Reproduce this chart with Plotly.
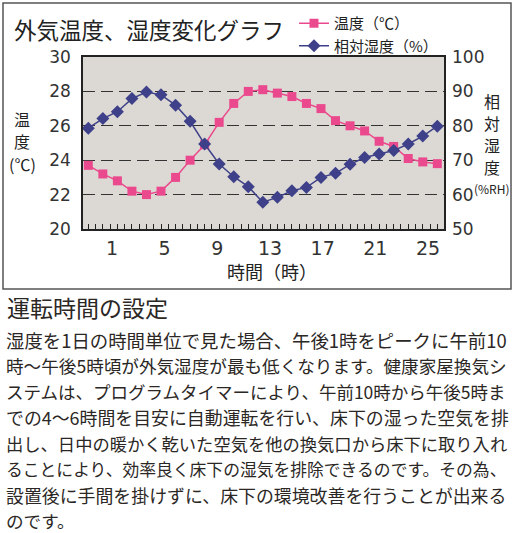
import plotly.graph_objects as go

# ---------------- data ----------------
hours = list(range(1, 26))
temperature = [23.7, 23.2, 22.8, 22.2, 22.0, 22.2, 23.0, 24.0, 24.9, 26.2, 27.3, 28.0, 28.1,
               27.9, 27.7, 27.3, 27.0, 26.3, 26.0, 25.7, 25.1, 24.8, 24.1, 23.9, 23.8]
humidity = [79.3, 82.1, 84.1, 87.9, 89.8, 89.0, 86.0, 81.3, 74.7, 68.9, 65.2, 62.3, 57.8,
            59.2, 61.1, 62.1, 65.0, 66.2, 68.8, 70.8, 71.8, 72.8, 74.7, 77.0, 79.9]
hour_tick_labels = [1, 5, 9, 13, 17, 21, 25]
temp_ticks = [20, 22, 24, 26, 28, 30]
hum_ticks = [50, 60, 70, 80, 90, 100]

title_text = "外気温度、湿度変化グラフ"
temp_name = "温度（℃）"
hum_name = "相対湿度（%）"
x_title = "時間（時）"
left_title_parts = ["温", "度", "(℃)"]
right_title_parts = ["相", "対", "湿", "度", "(%RH)"]
heading = "運転時間の設定"
body_lines = [
    "湿度を1日の時間単位で見た場合、午後1時をピークに午前10",
    "時〜午後5時頃が外気湿度が最も低くなります。健康家屋換気シ",
    "ステムは、プログラムタイマーにより、午前10時から午後5時ま",
    "での4〜6時間を目安に自動運転を行い、床下の湿った空気を排",
    "出し、日中の暖かく乾いた空気を他の換気口から床下に取り入れ",
    "ることにより、効率良く床下の湿気を排除できるのです。その為、",
    "設置後に手間を掛けずに、床下の環境改善を行うことが出来る",
    "のです。",
]

# ---------------- layout geometry (pixels) ----------------
W, H = 515, 533
L, R, T, B = 83, 444, 57, 229
PW, PH = R - L, B - T


def px(x):
    return (x - L) / PW


def py(y):
    return (B - y) / PH


JP = "Noto Sans CJK JP"
NUM = "DejaVu Sans"
PINK = "#ea4a8d"
NAVY = "#3e4189"
TXT = "#2b2725"

fig = go.Figure()
fig.add_trace(go.Scatter(
    x=hours, y=temperature, name=temp_name, mode="lines+markers",
    line=dict(color=PINK, width=1.5),
    marker=dict(symbol="square", size=9, color=PINK),
    xaxis="x", yaxis="y",
))
fig.add_trace(go.Scatter(
    x=hours, y=humidity, name=hum_name, mode="lines+markers",
    line=dict(color=NAVY, width=1.5),
    marker=dict(symbol="diamond", size=10, color=NAVY),
    xaxis="x", yaxis="y2",
))
# helper trace so that the label axis is drawn
fig.add_trace(go.Scatter(
    x=hour_tick_labels, y=[None] * len(hour_tick_labels), mode="markers",
    xaxis="x2", yaxis="y", showlegend=False, hoverinfo="skip",
))

annotations = [
    dict(text=title_text, x=px(12), y=py(29), xanchor="left", yanchor="middle",
         font=dict(family=JP, size=22.5, color="#222")),
    dict(text=x_title, x=px(272), y=py(271), xanchor="center", yanchor="middle",
         font=dict(family=JP, size=18, color="#222")),
    dict(text=heading, x=px(5), y=py(307), xanchor="left", yanchor="middle",
         font=dict(family=JP, size=23, color=TXT)),
]
for t, yy in zip(left_title_parts, [119, 141, 164]):
    annotations.append(dict(text=t, x=px(22), y=py(yy), xanchor="center", yanchor="middle",
                            borderpad=0, font=dict(family=JP, size=16, color="#222")))
for t, yy, s in zip(right_title_parts, [101, 123, 145, 167, 188], [16, 16, 16, 16, 12]):
    annotations.append(dict(text=t, x=px(492), y=py(yy), xanchor="center", yanchor="middle",
                            borderpad=0, font=dict(family=JP, size=s, color="#222")))
line_sizes = [18.4, 17.6, 17.5, 17.9, 17.3, 16.8, 17.9, 17.6]
for i, (t, s) in enumerate(zip(body_lines, line_sizes)):
    annotations.append(dict(text=t, x=px(4), y=py(340 + 25.8 * i), xanchor="left",
                            yanchor="middle", font=dict(family=JP, size=s, color=TXT)))
for a in annotations:
    a.update(xref="paper", yref="paper", showarrow=False)

fig.update_layout(
    width=W, height=H,
    margin=dict(l=L, r=W - R, t=T, b=H - B, autoexpand=False),
    paper_bgcolor="white",
    plot_bgcolor="#dcd9d4",
    showlegend=True,
    legend=dict(x=px(294), y=py(7), xanchor="left", yanchor="top",
                bgcolor="rgba(0,0,0,0)", font=dict(family=JP, size=15, color="#222"),
                tracegroupgap=0),
    xaxis=dict(range=[0.635, 25.46], showticklabels=False, ticks="inside", ticklen=5,
               tick0=1, dtick=0.5, tickcolor="#222", showline=True, mirror=True,
               linecolor="#222", linewidth=1.5, showgrid=False, zeroline=False),
    xaxis2=dict(range=[-1.2, 26.21], overlaying="x", anchor="y", side="bottom",
                tickvals=hour_tick_labels, showline=False, showgrid=False, ticks="",
                zeroline=False, tickfont=dict(family=NUM, size=19, color="#333"),
                ticklabelstandoff=6),
    yaxis=dict(range=[20, 30], tickvals=temp_ticks, showgrid=True, griddash="12px,6px",
               gridcolor="#333", gridwidth=1, showline=True, mirror=True, linecolor="#222",
               linewidth=1.5, ticks="", zeroline=False,
               tickfont=dict(family=NUM, size=17, color="#333"), ticklabelstandoff=7),
    yaxis2=dict(range=[50, 100], tickvals=hum_ticks, overlaying="y", side="right",
                showgrid=False, showline=False, ticks="", zeroline=False,
                tickfont=dict(family=NUM, size=17, color="#333"), ticklabelstandoff=7),
    annotations=annotations,
    shapes=[dict(type="rect", xref="paper", yref="paper", x0=px(3), x1=px(511),
                 y0=py(3), y1=py(289), line=dict(color="#555", width=1.5),
                 fillcolor="rgba(0,0,0,0)", layer="below")],
)

fig.write_html("out.html")
